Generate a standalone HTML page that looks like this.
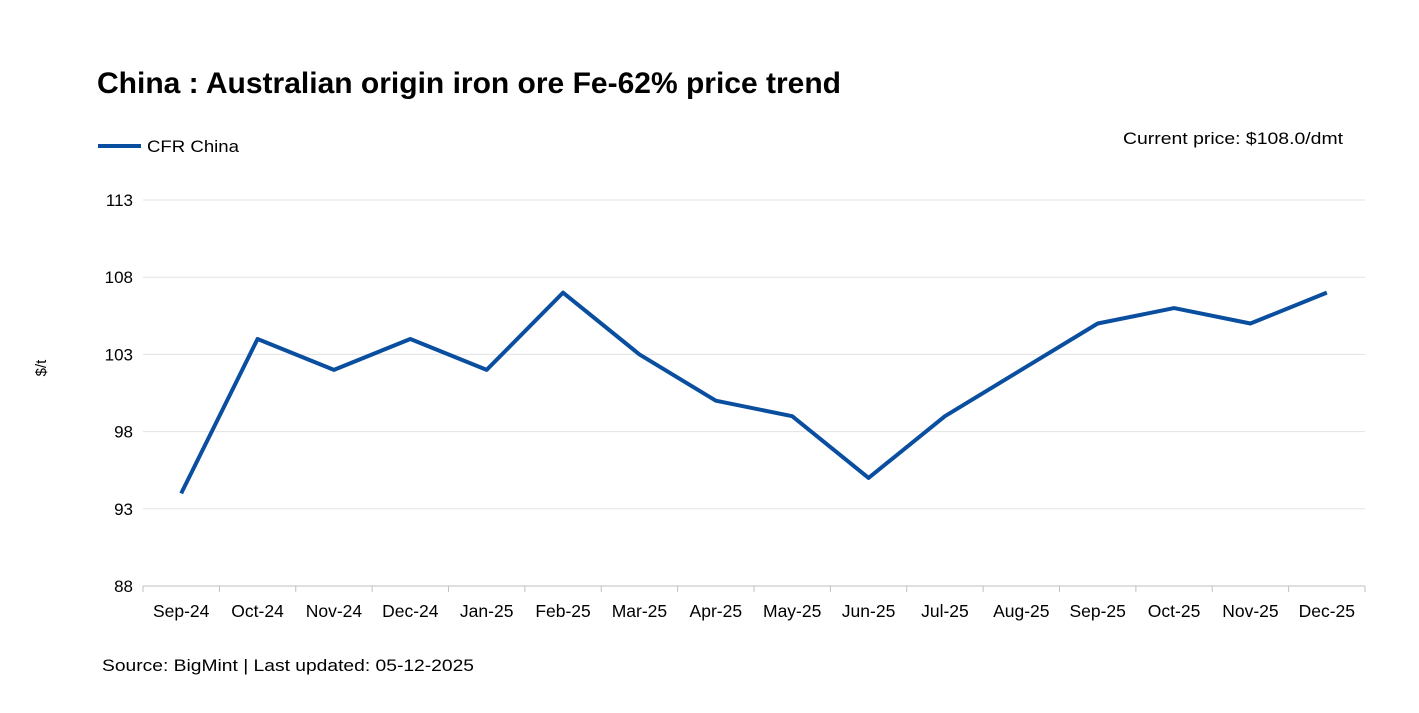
<!DOCTYPE html>
<html><head><meta charset="utf-8"><style>
body{margin:0;background:#fff;font-family:"Liberation Sans",Arial,sans-serif;}
#wrap{position:relative;width:1419px;height:713px;overflow:hidden;}
</style></head><body>
<div id="wrap">
<svg id="chart" width="1419" height="713">
<text x="97" y="93" font-size="30" font-weight="bold" fill="#000" textLength="744" lengthAdjust="spacingAndGlyphs">China : Australian origin iron ore Fe-62% price trend</text>
<g>
<line x1="98" y1="146" x2="141" y2="146" stroke="#0a4ea0" stroke-width="4"/>
<text x="147" y="152" font-size="17" fill="#000" textLength="92" lengthAdjust="spacingAndGlyphs">CFR China</text>
</g>
<text x="1123" y="144" font-size="17" fill="#000" textLength="220" lengthAdjust="spacingAndGlyphs">Current price: $108.0/dmt</text>
<text transform="translate(46,368) rotate(-90)" font-size="15" fill="#000" text-anchor="middle">$/t</text>
<text x="102" y="671" font-size="17" fill="#000" textLength="372" lengthAdjust="spacingAndGlyphs">Source: BigMint | Last updated: 05-12-2025</text>
<g id="grid"></g><g id="xaxis"></g><g id="series"></g>
</svg>
</div>
<script>
const categories=["Sep-24","Oct-24","Nov-24","Dec-24","Jan-25","Feb-25","Mar-25","Apr-25","May-25","Jun-25","Jul-25","Aug-25","Sep-25","Oct-25","Nov-25","Dec-25"];
const values=[94,104,102,104,102,107,103,100,99,95,99,102,105,106,105,107];
const yTicks=[88,93,98,103,108,113];
{
const NS="http://www.w3.org/2000/svg";
const plotLeft=143,plotRight=1365,plotTop=200,plotBottom=586,yMin=88,yMax=113;
const band=(plotRight-plotLeft)/categories.length;
const xPos=i=>plotLeft+band*(i+0.5);
const yPos=v=>plotBottom-(v-yMin)/(yMax-yMin)*(plotBottom-plotTop);
const mk=(t,a,p)=>{const e=document.createElementNS(NS,t);for(const k in a)e.setAttribute(k,a[k]);p.appendChild(e);return e;};
const grid=document.getElementById('grid'),xa=document.getElementById('xaxis'),se=document.getElementById('series');
yTicks.forEach(v=>{
 if(v!==yMin){const l=mk('line',{x1:plotLeft,x2:plotRight,y1:yPos(v),y2:yPos(v),stroke:'#e3e3e3','stroke-width':1},grid);
 
 }
 const t=mk('text',{x:133,y:yPos(v)+6,'font-size':17,'text-anchor':'end',fill:'#000'},grid);t.textContent=v;
 
 
});
const ax=mk('line',{x1:plotLeft,x2:plotRight,y1:plotBottom,y2:plotBottom,stroke:'#bfbfbf','stroke-width':1},xa);


for(let i=0;i<=categories.length;i++){
 const tk=mk('line',{x1:plotLeft+band*i,x2:plotLeft+band*i,y1:plotBottom,y2:plotBottom+6,stroke:'#bfbfbf'},xa);
 
 
}
categories.forEach((c,i)=>{
 const t=mk('text',{x:xPos(i),y:617,'font-size':17.5,'text-anchor':'middle',fill:'#000'},xa);t.textContent=c;
 
 
});
const pl=mk('polyline',{points:values.map((v,i)=>xPos(i)+','+yPos(v)).join(' '),fill:'none',stroke:'#0a4ea0','stroke-width':4,'stroke-linejoin':'round'},se);


}
</script>
</body></html>
